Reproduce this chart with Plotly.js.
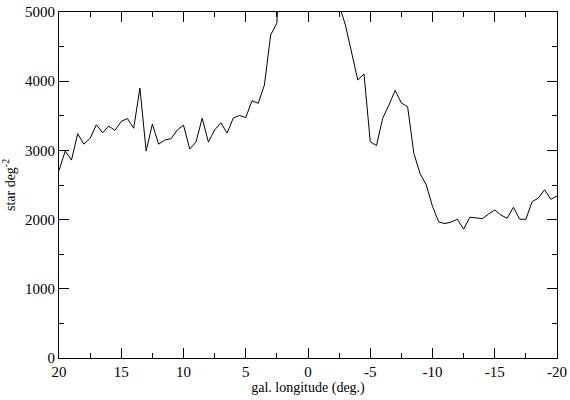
<!DOCTYPE html>
<html>
<head>
<meta charset="utf-8">
<script src="https://cdn.plot.ly/plotly-3.0.1.min.js"></script>
<style>html,body{margin:0;padding:0;background:#fff;}#chart{width:570px;height:400px;}</style>
</head>
<body>
<div id="chart"></div>
<script>
// galactic longitude (deg), sampled every 0.5 deg from 20 to -20
const longitude = [];
for (let i = 0; i <= 80; i++) longitude.push(20 - 0.5 * i);

// star density (stars per square degree)
const density = [
  2710, 2990, 2860, 3240, 3090, 3175, 3370, 3255, 3350, 3290,
  3420, 3460, 3320, 3900, 2990, 3380, 3090, 3150, 3170, 3295,
  3365, 3020, 3120, 3465, 3120, 3295, 3400, 3250, 3468, 3505,
  3473, 3718, 3680, 3945, 4668, 4840, 7000, 8500, 9200, 9600,
  9800, 9500, 9000, 8300, 7400, 5100, 4815, 4403, 4017, 4104,
  3126, 3068, 3464, 3656, 3868, 3685, 3632, 2960, 2665, 2500,
  2190, 1965, 1943, 1965, 2004, 1862, 2035, 2025, 2013, 2081,
  2139, 2065, 2020, 2178, 2006, 2004, 2260, 2310, 2430, 2293,
  2341
];

const xTicks = [20, 15, 10, 5, 0, -5, -10, -15, -20];
const yTicks = [0, 1000, 2000, 3000, 4000, 5000];

const fontFam = 'Liberation Serif, Times New Roman, Times, serif';

const trace = {
  x: longitude,
  y: density,
  type: 'scatter',
  mode: 'lines',
  line: {color: '#000', width: 1},
  hoverinfo: 'skip'
};

const layout = {
  width: 570,
  height: 400,
  margin: {l: 59, r: 13, t: 12, b: 42},
  paper_bgcolor: '#fff',
  plot_bgcolor: '#fff',
  showlegend: false,
  font: {family: fontFam, color: '#000', size: 14},
  xaxis: {
    range: [20, -20],
    tickmode: 'array',
    tickvals: xTicks,
    ticktext: xTicks.map(String),
    ticks: 'inside',
    ticklen: 10,
    tickwidth: 1,
    tickcolor: '#000',
    showline: true,
    linecolor: '#000',
    linewidth: 1,
    mirror: 'ticks',
    showgrid: false,
    zeroline: false,
    tickfont: {family: fontFam, size: 15, color: '#000'},
    minor: {dtick: 2.5, tick0: 0, ticks: 'inside', ticklen: 5, tickcolor: '#000', tickwidth: 1, showgrid: false},
    title: {text: 'gal. longitude (deg.)', font: {family: fontFam, size: 14, color: '#000'}, standoff: 0}
  },
  yaxis: {
    range: [0, 5000],
    tickmode: 'array',
    tickvals: yTicks,
    ticktext: yTicks.map(String),
    ticks: 'inside',
    ticklen: 10,
    tickwidth: 1,
    tickcolor: '#000',
    showline: true,
    linecolor: '#000',
    linewidth: 1,
    mirror: 'ticks',
    showgrid: false,
    zeroline: false,
    tickfont: {family: fontFam, size: 15, color: '#000'},
    minor: {dtick: 500, tick0: 0, ticks: 'inside', ticklen: 5, tickcolor: '#000', tickwidth: 1, showgrid: false},
    title: {text: 'star deg<sup>-2</sup>', font: {family: fontFam, size: 14, color: '#000'}, standoff: 8}
  }
};

Plotly.newPlot('chart', [trace], layout, {staticPlot: true, displayModeBar: false});
</script>
</body>
</html>
